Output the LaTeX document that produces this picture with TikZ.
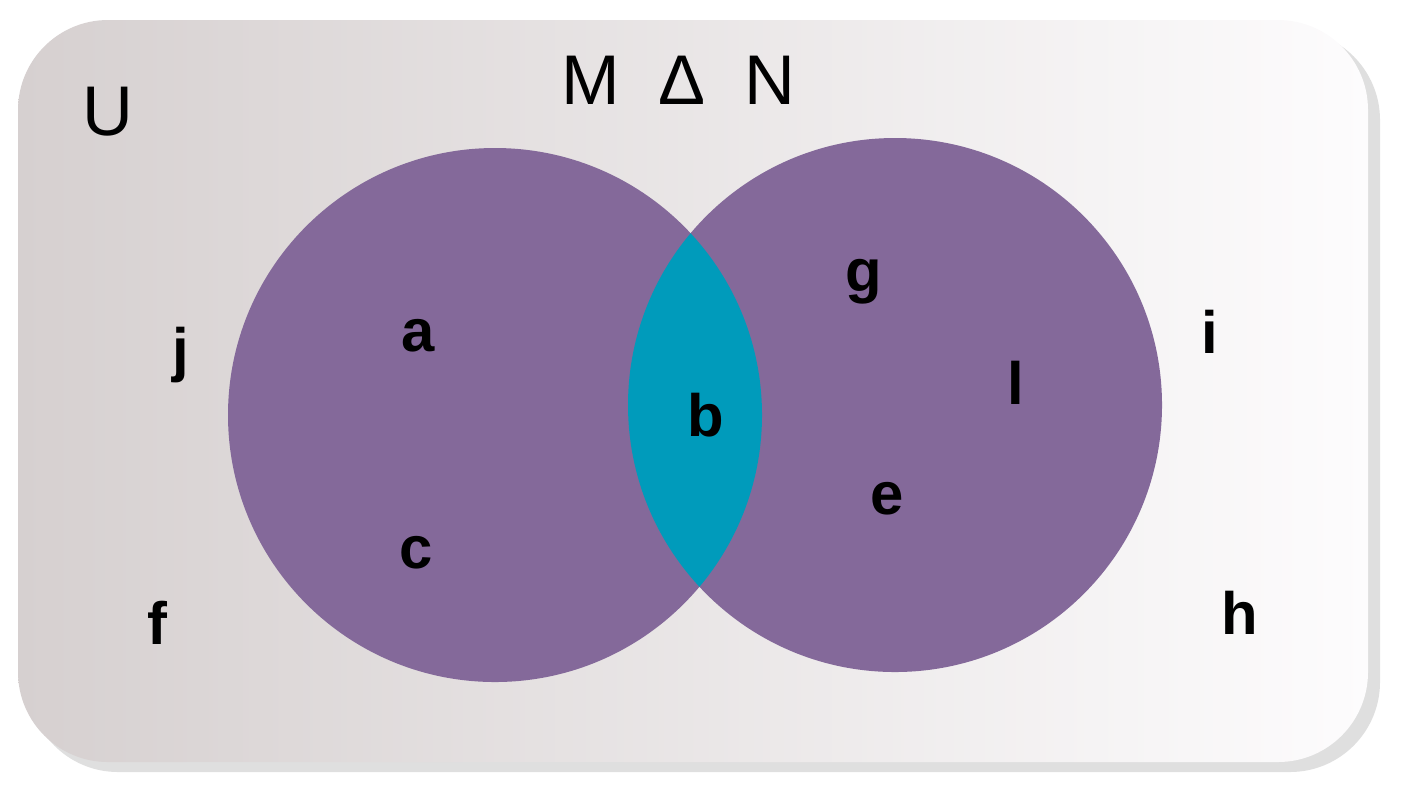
\documentclass[tikz,border=0pt]{standalone}
\usepackage{fontspec}
\setmainfont{Liberation Sans}
\usetikzlibrary{shadows}
\definecolor{setpurple}{HTML}{84699A}
\definecolor{setteal}{HTML}{009BBB}
\definecolor{uleft}{HTML}{D6D0D0}
\definecolor{uright}{HTML}{FDFCFD}
\tikzset{
  elem/.style={font=\fontsize{17}{17}\selectfont\bfseries},
  big/.style={font=\fontsize{20}{20}\selectfont}
}
\begin{document}
\begin{tikzpicture}[x=0.01cm,y=-0.01cm]
        \useasboundingbox (0,0) rectangle (1401,805);
        % universe
        \fill[black!25,opacity=0.5,rounded corners=0.9cm] (28,30) rectangle (1380,772);
        \shade[left color=uleft,right color=uright,rounded corners=0.9cm] (18,20) rectangle (1368,762);

        % sets
        \fill[setpurple] (495,415) circle (267);
        \fill[setpurple] (895,405) circle (267);
        \begin{scope}
            \clip (495,415) circle (267);
            \fill[setteal] (895,405) circle (267);
        \end{scope}

        \node[big] (U) at (108,112) {U};
        \node[big] (title) at (678,80) {M\hspace{0.55em}Δ\hspace{0.55em}N};

        \node[elem] (a) at (418,336) {a};
        \node[elem] (c) at (416,553) {c};
        \node[elem] (j) at (181,355) {j};
        \node[elem] (f) at (157,623) {f};
        \node[elem] (b) at (706,415) {b};
        \node[elem] (g) at (864,282) {g};
        \node[elem] (l) at (1016,383) {l};
        \node[elem] (e) at (887,499) {e};
        \node[elem] (i) at (1210,332) {i};
        \node[elem] (h) at (1240,613) {h};
\end{tikzpicture}
\end{document}
